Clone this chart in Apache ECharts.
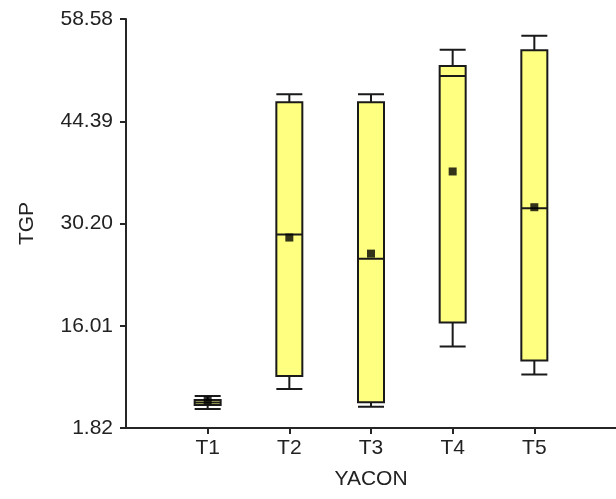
<!DOCTYPE html>
<html>
<head>
	<meta charset="UTF-8">
	<title>TGP - YACON</title>
	<style>
		html, body { margin: 0; padding: 0; background: #fff; }
		#container { width: 616px; height: 499px; }
	</style>
</head>
<body>
	<div id="container"></div>
	<script src="https://cdn.jsdelivr.net/npm/echarts@6/dist/echarts.min.js"></script>
	<script>
		// treatments (blank entries pad the axis at both ends)
		var categories = ['', 'T1', 'T2', 'T3', 'T4', 'T5', ''];
		var groups = ['T1', 'T2', 'T3', 'T4', 'T5'];
		// [min, Q1, median, Q3, max] per treatment
		var boxes = [
			[4.46, 5.02, 5.37, 5.71, 6.27],
			[7.24, 9.05, 28.66, 47.02, 48.13],
			[4.78, 5.39, 25.32, 47.02, 48.13],
			[13.13, 16.47, 50.68, 52.07, 54.30],
			[9.23, 11.18, 32.32, 54.25, 56.24]
		];
		var means = [5.64, 28.25, 26.02, 37.42, 32.46];
		var yTicks = [1.82, 16.01, 30.20, 44.39, 58.58];

		var dom = document.getElementById('container');
		var myChart = echarts.init(dom);

		var boxData = boxes.map(function (b, i) {
			return [groups[i]].concat(b);
		});
		var meanData = means.map(function (m, i) {
			return [groups[i], m];
		});

		var axisColor = '#262626';
		var textColor = '#222';
		var font = 'Liberation Sans';

		var option = {
			animation: false,
			grid: { left: 126, right: -2, top: 19, bottom: 71 },
			xAxis: {
				type: 'category',
				data: categories,
				boundaryGap: false,
				name: 'YACON',
				nameLocation: 'middle',
				nameGap: 41,
				nameTextStyle: { color: textColor, fontSize: 21, fontFamily: font },
				axisLine: { lineStyle: { color: axisColor, width: 2 } },
				axisTick: {
					length: 6,
					lineStyle: { color: axisColor, width: 2 },
					interval: function (idx, val) { return val !== ''; }
				},
				axisLabel: {
					color: textColor, fontSize: 21, fontFamily: font, margin: 10,
					interval: function (idx, val) { return val !== ''; }
				},
				splitLine: { show: false }
			},
			yAxis: {
				type: 'value',
				min: yTicks[0],
				max: yTicks[yTicks.length - 1],
				name: 'TGP',
				nameLocation: 'middle',
				nameRotate: 90,
				nameGap: 88,
				nameTextStyle: { color: textColor, fontSize: 21, fontFamily: font },
				axisLine: { show: true, lineStyle: { color: axisColor, width: 2 } },
				axisTick: {
					show: true, length: 6,
					customValues: yTicks,
					lineStyle: { color: axisColor, width: 2 }
				},
				axisLabel: {
					color: textColor, fontSize: 21, fontFamily: font, margin: 13,
					customValues: yTicks,
					formatter: function (v) { return v.toFixed(2); }
				},
				splitLine: { show: false }
			},
			series: [
				{
					type: 'boxplot',
					data: boxData,
					encode: { x: 0, y: [1, 2, 3, 4, 5] },
					boxWidth: [26, 26],
					itemStyle: { color: '#ffff80', borderColor: '#1a1a1a', borderWidth: 2 }
				},
				{
					type: 'scatter',
					data: meanData,
					symbol: 'rect',
					symbolSize: 8,
					itemStyle: { color: '#000' },
					z: 5
				}
			]
		};

		myChart.setOption(option, true);
	</script>
</body>
</html>
